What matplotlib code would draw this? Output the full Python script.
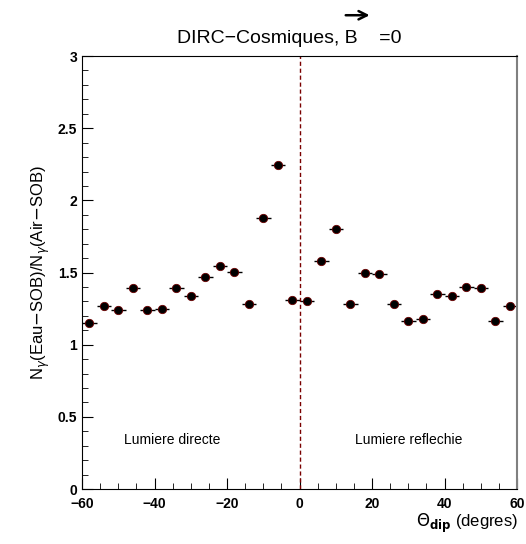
import matplotlib.pyplot as plt
import numpy as np

# bin centres (degrees) and ratio values
theta = [-58, -54, -50, -46, -42, -38, -34, -30, -26, -22, -18, -14, -10, -6, -2,
         2, 6, 10, 14, 18, 22, 26, 30, 34, 38, 42, 46, 50, 54, 58]
ratio = [1.15, 1.27, 1.24, 1.39, 1.24, 1.245, 1.39, 1.335, 1.47, 1.545, 1.505, 1.285, 1.875, 2.245, 1.31,
         1.30, 1.58, 1.80, 1.285, 1.50, 1.49, 1.285, 1.165, 1.175, 1.35, 1.335, 1.40, 1.39, 1.162, 1.27]
bin_half = [2] * len(theta)

plt.rcParams['font.family'] = ['Liberation Sans', 'DejaVu Sans']

fig = plt.figure(figsize=(5.26, 5.44), dpi=100)
ax = fig.add_axes([0.156, 0.101, 0.827, 0.796])

ax.errorbar(theta, ratio, xerr=bin_half, fmt='o', color='black', ms=6,
            mec='#6b0000', mew=0.6, ecolor='black', elinewidth=1.0, capsize=0)
ax.axvline(0, color='#7a0000', ls=(0, (3, 2)), lw=1.0)

ax.set_xlim(-60, 60)
ax.set_ylim(0, 3)
ax.set_xticks(np.arange(-60, 61, 20))
ax.set_xticks(np.arange(-60, 61, 5), minor=True)
ax.set_yticks(np.arange(0, 3.01, 0.5))
ax.set_yticks(np.arange(0, 3.01, 0.1), minor=True)
ax.set_yticklabels(['0', '0.5', '1', '1.5', '2', '2.5', '3'])
ax.tick_params(which='both', direction='in', top=False, right=False)
ax.tick_params(which='major', length=8, labelsize=10)
ax.tick_params(axis='x', which='major', pad=6)
ax.tick_params(which='minor', length=4)
for lab in ax.get_xticklabels() + ax.get_yticklabels():
    lab.set_fontweight('bold')
ax.spines['right'].set_color('gray')
ax.spines['right'].set_linewidth(1.5)

ax.text(-35, 0.34, 'Lumiere directe', ha='center', va='center', fontsize=10)
ax.text(30, 0.34, 'Lumiere reflechie', ha='center', va='center', fontsize=10)

ax.set_ylabel(r'N$_\gamma$(Eau$-$SOB)/N$_\gamma$(Air$-$SOB)', fontsize=12)
fig.text(0.985, 0.038, r'$\Theta_{\mathbf{dip}}$ (degres)', ha='right', va='center', fontsize=12)

fig.text(0.55, 0.93, 'DIRC\u2212Cosmiques, B    =0', ha='center', va='center', fontsize=14)
ax.annotate('', xy=(0.708, 0.972), xytext=(0.652, 0.972), xycoords='figure fraction',
            arrowprops=dict(arrowstyle='->', lw=1.8, color='black', mutation_scale=15))

fig.savefig('out.png', dpi=100)
